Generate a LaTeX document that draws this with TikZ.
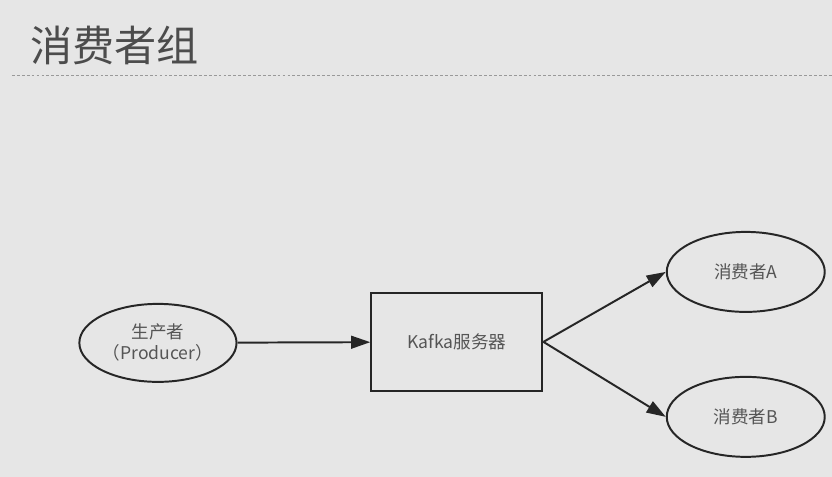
\documentclass[tikz,border=0pt]{standalone}
\usepackage{fontspec}
\setmainfont{Noto Sans CJK SC}
\usetikzlibrary{shapes.geometric,arrows.meta}
\definecolor{slidebg}{HTML}{E6E6E6}
\definecolor{inkgray}{HTML}{555555}
\begin{document}
\begin{tikzpicture}[x=0.025cm,y=-0.025cm,party node/.style={ellipse, draw=black!85, line width=1.4pt, fill=slidebg, font=\fontsize{12.5}{15}\selectfont\color{inkgray}, align=center, inner sep=0pt, minimum width=3.93cm, minimum height=1.95cm},broker node/.style={draw=black!85, line width=1.4pt, fill=slidebg, font=\fontsize{12.5}{15}\selectfont\color{inkgray}, align=center, inner sep=0pt, minimum width=4.28cm, minimum height=2.45cm},link/.style={line width=1.4pt, black!85, -{Triangle[length=0.48cm,width=0.32cm]}},rule line/.style={gray!80, dashed, dash pattern=on 2pt off 1.5pt, line width=0.4pt}]%
\fill[slidebg] (0,0) rectangle (832,477);%
  % Title%
\node[anchor=west, inner sep=0pt, font=\fontsize{30}{34}\selectfont\color{black!70}] (title) at (30,45) {消费者组};%
\coordinate (ruleL) at (12,75);%
\coordinate (ruleR) at (832,75);%
\draw[rule line] (ruleL) -- (ruleR);%
  % Producer and broker%
\node[party node] (producer) at (158,343) {生产者\\（Producer）};%
\node[broker node] (kafka) at (457,342) {Kafka服务器};%
  % Consumers%
\node[party node, minimum width=3.95cm, minimum height=2.0cm] (consumerA) at (746,272) {消费者A};%
\node[party node, minimum width=3.95cm, minimum height=2.0cm] (consumerB) at (746,417) {消费者B};%
\draw[link] (producer) -- (kafka);%
\draw[link] (kafka.east) -- (consumerA.west);%
\draw[link] (kafka.east) -- (consumerB.west);%
\path[use as bounding box] (0,0) rectangle (832,477);%
\end{tikzpicture}
\end{document}
